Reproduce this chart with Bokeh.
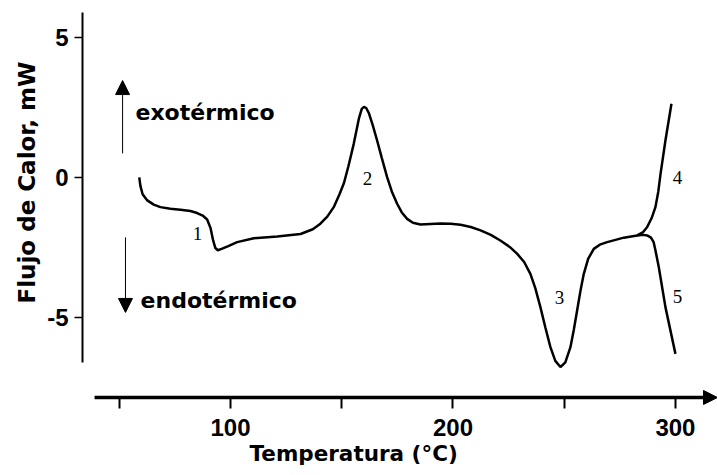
from bokeh.plotting import figure
from bokeh.models import (LinearAxis, FixedTicker, Arrow, NormalHead, Label,
                          ColumnDataSource, Range1d, Title)
from bokeh.core.properties import value
from bokeh.embed import file_html
from bokeh.resources import INLINE

# ---- data ----
temp_main = [59.0, 59.5, 60.5, 62.6, 65.5, 68.5, 73.0, 77.5, 82.0, 85.0, 87.5, 89.5,
             91.0, 92.2, 93.2, 94.3, 96.0, 99.0, 103.0, 110.5, 121.0, 131.5, 137.0,
             140.4, 143.5, 146.4, 149.0, 151.0, 153.0, 155.4, 157.7, 159.0, 160.0,
             161.0, 162.2, 164.0, 165.9, 168.0, 170.4, 172.5, 174.9, 177.0, 179.4,
             182.0, 185.4, 190.0, 194.4, 199.0, 203.4, 208.0, 212.4, 217.0, 221.3,
             225.5, 228.9, 232.0, 234.8, 237.0, 239.3, 241.5, 243.8, 246.0, 248.3,
             250.5, 252.8, 254.3, 255.8, 257.3, 258.8, 260.8, 263.3, 266.0, 269.3,
             276.8, 282.8, 285.5, 287.3, 289.3, 291.0, 292.3, 293.3, 295.5, 298.2]
flow_main = [0.0, -0.3, -0.6, -0.82, -0.97, -1.06, -1.12, -1.15, -1.2, -1.27, -1.36, -1.5,
             -1.8, -2.25, -2.52, -2.6, -2.55, -2.45, -2.31, -2.17, -2.11, -2.02, -1.85,
             -1.65, -1.4, -1.06, -0.6, -0.2, 0.4, 1.2, 2.1, 2.45, 2.52,
             2.48, 2.3, 1.85, 1.32, 0.7, 0.01, -0.5, -0.94, -1.25, -1.48,
             -1.62, -1.68, -1.66, -1.64, -1.65, -1.69, -1.77, -1.89, -2.05, -2.25,
             -2.48, -2.73, -3.02, -3.44, -3.95, -4.63, -5.35, -6.06, -6.55, -6.77,
             -6.6, -6.06, -5.45, -4.75, -4.05, -3.44, -2.9, -2.55, -2.4, -2.31,
             -2.15, -2.07, -1.95, -1.77, -1.45, -1.06, -0.5, 0.13, 1.32, 2.63]
temp_branch5 = [282.8, 285.5, 287.3, 289.0, 290.2, 291.0, 292.5, 295.5, 300.0]
flow_branch5 = [-2.07, -2.05, -2.07, -2.15, -2.31, -2.6, -3.2, -4.63, -6.3]

peak_labels = ["1", "2", "3", "4", "5"]
peak_temp = [85.2, 161.6, 247.9, 300.9, 300.9]
peak_flow = [-2.0, -0.04, -4.29, 0.0, -4.25]

y_ticks = [-5, 0, 5]
y_tick_labels = {-5: "-5", 0: "0", 5: "5"}
x_ticks = [50, 100, 150, 200, 250, 300]
x_tick_labels = {50: "", 100: "100", 150: "", 200: "200", 250: "", 300: "300"}

x_title = "Temperatura (°C)"
y_title = "Flujo de Calor, mW"
exo_text = "exotérmico"
endo_text = "endotérmico"

# ---- figure ----
FONT = "DejaVu Sans"
NUM_FONT = "Liberation Sans"
X0, X1 = 33.48, 318.9
Y0, Y1 = -8.143, 6.14      # frame bottom a bit below the drawn x-axis line
Y_AXIS_LINE = -7.857       # level of the x-axis arrow line

p = figure(width=717, height=475, output_backend="svg", toolbar_location=None,
           x_range=Range1d(X0, X1), y_range=Range1d(Y0, Y1),
           x_axis_type=None, y_axis_type=None,
           min_border_left=82, min_border_right=0, min_border_top=5,
           min_border_bottom=70)
p.outline_line_color = None
p.xgrid.visible = False
p.ygrid.visible = False
p.background_fill_color = "white"
p.border_fill_color = "white"

yax = LinearAxis(ticker=FixedTicker(ticks=y_ticks), bounds=(-6.6, 5.9))
yax.major_label_overrides = y_tick_labels
yax.axis_line_width = 2
yax.major_tick_line_width = 1.5
yax.major_tick_out = 8
yax.major_tick_in = 0
yax.minor_tick_line_color = None
yax.major_label_standoff = 6
yax.major_label_text_font = NUM_FONT
yax.major_label_text_font_style = "bold"
yax.major_label_text_font_size = "24px"
yax.major_label_text_color = "black"
p.add_layout(yax, "left")

xax = LinearAxis(ticker=FixedTicker(ticks=x_ticks))
xax.major_label_overrides = x_tick_labels
xax.axis_line_color = None
xax.major_tick_line_width = 2
xax.major_tick_out = 3
xax.major_tick_in = 8
xax.minor_tick_line_color = None
xax.major_label_standoff = 10
xax.major_label_text_font = NUM_FONT
xax.major_label_text_font_style = "bold"
xax.major_label_text_font_size = "24px"
xax.major_label_text_color = "black"
p.add_layout(xax, "below")

p.add_layout(Title(text=x_title, align="left", offset=167, standoff=0,
                   text_font=FONT, text_font_style="bold", text_font_size="21.5px",
                   text_color="black"), "below")
p.add_layout(Title(text=y_title, align="left", offset=102, standoff=10,
                   text_font=FONT, text_font_style="bold", text_font_size="23px",
                   text_color="black"), "left")

# x axis line with arrow head
p.add_layout(Arrow(end=NormalHead(size=14, fill_color="black", line_color="black"),
                   x_start=38.9, y_start=Y_AXIS_LINE, x_end=X1, y_end=Y_AXIS_LINE,
                   line_width=3.5, line_color="black"))

# curve
p.line(temp_main, flow_main, line_width=2.5, line_color="black")
p.line(temp_branch5, flow_branch5, line_width=2.5, line_color="black")

# peak numbers
src = ColumnDataSource(dict(x=peak_temp, y=peak_flow, t=peak_labels))
p.text(x="x", y="y", text="t", source=src, text_font=value("Liberation Serif"),
       text_font_size="19px", text_align="center", text_baseline="middle",
       text_color="black")

# exo / endo arrows
p.add_layout(Arrow(end=NormalHead(size=14, fill_color="black", line_color="black"),
                   x_start=51.5, y_start=0.86, x_end=51.5, y_end=3.46,
                   line_width=1, line_color="black"))
p.add_layout(Arrow(end=NormalHead(size=14, fill_color="black", line_color="black"),
                   x_start=52.8, y_start=-2.14, x_end=52.8, y_end=-4.82,
                   line_width=1, line_color="black"))
p.add_layout(Label(x=57.3, y=2.32, text=exo_text, text_font=FONT,
                   text_font_style="bold", text_font_size="22px",
                   text_baseline="middle", text_color="black"))
p.add_layout(Label(x=59.6, y=-4.39, text=endo_text, text_font=FONT,
                   text_font_style="bold", text_font_size="22px",
                   text_baseline="middle", text_color="black"))

open("out.html", "w").write(file_html(p, INLINE))
